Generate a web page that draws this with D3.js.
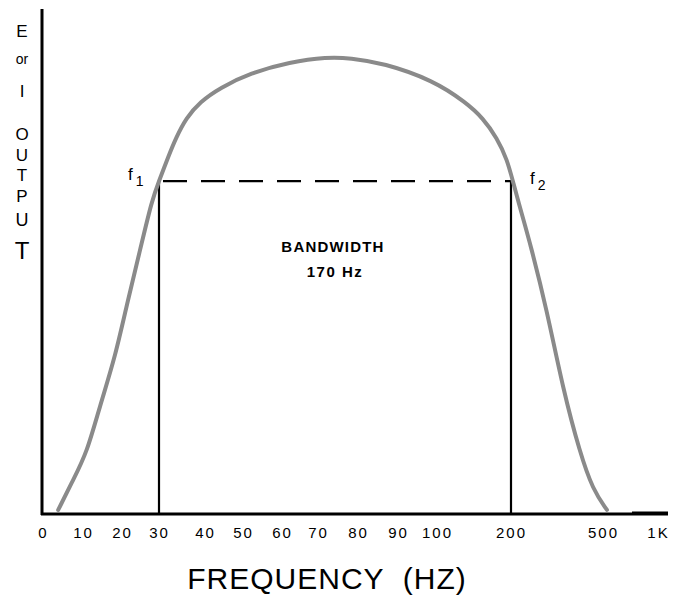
<!DOCTYPE html>
<html><head><meta charset="utf-8">
<script src="https://cdn.jsdelivr.net/npm/d3@7"></script>
<style>body{margin:0;background:#fff}svg{display:block}</style>
</head><body>
<svg id="c" width="674" height="605"></svg>
<script>
// tick labels and their frequency values
const tickValues = [0,10,20,30,40,50,60,70,80,90,100,200,500,1000];
const tickLabels = ["0","10","20","30","40","50","60","70","80","90","100","200","500","1K"];
// response curve (frequency Hz, relative output)
const curveFreq = [3.8,7.5,11.0,14.4,18.2,21.6,24.9,28.1,30,32.0,33.7,35.9,38.9,44.0,51.8,62.2,72.3,78,86.3,99,140,162,181,195,206,236,262,317,370,425,467,536];
const curveOut  = [0.8,6.7,12.1,21.6,30.9,42.4,52.3,62.2,65.9,70.7,74.5,78.4,81.6,84.4,87.3,89.5,90.5,90.3,89.3,85.9,81.4,78.4,74.5,70.1,65.9,59.2,53.7,40.4,24.6,12.1,4.8,0.8];
const f1 = 30, f2 = 200, halfPower = 65.9;
const yLetters = ["E","or","I","O","U","T","P","U","T"];

const svg = d3.select("#c");
const x = d3.scaleLinear()
  .domain(tickValues)
  .range([43,83,122,159,205,243,282,318,358,398,437,511,603,658]);
const y = d3.scaleLinear().domain([0,100]).range([514,9]);
const font = "Liberation Sans, Arial, sans-serif";

// axes
svg.append("line").attr("x1",42).attr("x2",42).attr("y1",9).attr("y2",515)
  .attr("stroke","#000").attr("stroke-width",3);
svg.append("line").attr("x1",41).attr("x2",668).attr("y1",514).attr("y2",514)
  .attr("stroke","#000").attr("stroke-width",3);
svg.append("line").attr("x1",632).attr("x2",668).attr("y1",513).attr("y2",513)
  .attr("stroke","#000").attr("stroke-width",3);

const xAxis = d3.axisBottom(x).tickValues(tickValues)
  .tickFormat((d,i)=>tickLabels[i]).tickSize(0).tickPadding(13);
const gx = svg.append("g").attr("transform","translate(0,514)").call(xAxis);
gx.select(".domain").remove();
gx.selectAll("text").attr("font-family",font)
  .attr("font-size",15).attr("fill","#000").attr("letter-spacing",2);

// vertical lines at f1, f2
[f1,f2].forEach(f=>{
  svg.append("line").attr("x1",x(f)).attr("x2",x(f)).attr("y1",y(halfPower)).attr("y2",514)
    .attr("stroke","#000").attr("stroke-width",2.2);
});
// dashed line
svg.append("line").attr("x1",x(f1)+4).attr("x2",x(f2)).attr("y1",y(halfPower)).attr("y2",y(halfPower))
  .attr("stroke","#000").attr("stroke-width",2.2).attr("stroke-dasharray","24,14");

// curve
const pts = curveFreq.map((f,i)=>[f,curveOut[i]]);
svg.append("path").datum(pts)
  .attr("d", d3.line().x(d=>x(d[0])).y(d=>y(d[1])).curve(d3.curveBasis))
  .attr("fill","none").attr("stroke","#8a8a8a").attr("stroke-width",4)
  .attr("stroke-linejoin","round").attr("stroke-linecap","round");

// f labels
function fLabel(cx, base, sub){
  const t = svg.append("text").attr("x",cx).attr("y",base).attr("font-family",font)
    .attr("font-size",17).attr("fill","#000");
  t.append("tspan").text("f");
  t.append("tspan").attr("dx",3).attr("dy",6).attr("font-size",14).text(sub);
}
fLabel(128,180,"1");
fLabel(530,184,"2");

// bandwidth text
svg.append("text").attr("x",333).attr("y",252).attr("text-anchor","middle")
  .attr("font-family",font).attr("font-weight","bold").attr("font-size",15)
  .attr("letter-spacing",1.2).text("BANDWIDTH");
svg.append("text").attr("x",335).attr("y",277).attr("text-anchor","middle")
  .attr("font-family",font).attr("font-weight","bold").attr("font-size",15)
  .attr("letter-spacing",1.5).text("170 Hz");

// y label (stacked letters)
const yPos = [37,64,97,140,161,181,202,226,259];
const ySize = [17,14,17,17,17,17,17,18,24];
yLetters.forEach((l,i)=>{
  svg.append("text").attr("x",22).attr("y",yPos[i]).attr("text-anchor","middle")
    .attr("font-family",font).attr("font-size",ySize[i]).attr("fill","#000").text(l);
});

// x title
svg.append("text").attr("x",327).attr("y",589).attr("text-anchor","middle")
  .attr("font-family",font).attr("font-size",30).attr("fill","#000")
  .attr("letter-spacing",1).attr("xml:space","preserve").text("FREQUENCY  (HZ)");
</script>
</body></html>
